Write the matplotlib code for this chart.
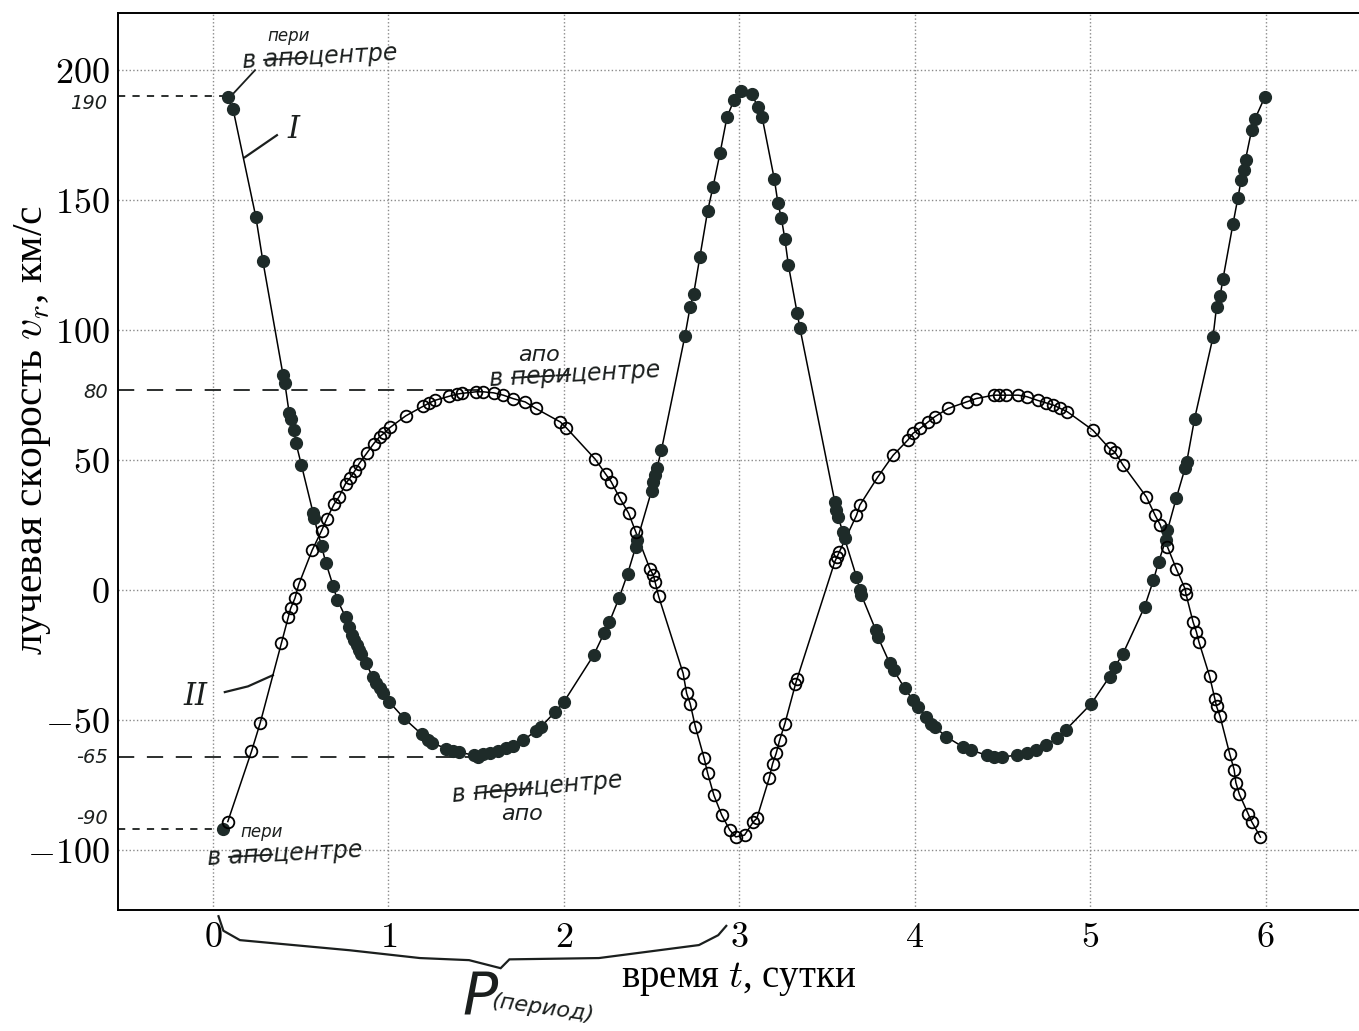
'''
Radial velocity curves of a spectroscopic binary, with hand notes
'''

import matplotlib
matplotlib.use('Agg')
import matplotlib.pyplot as plt
from matplotlib.path import Path
from matplotlib.patches import PathPatch

plt.rcParams['mathtext.fontset'] = 'cm'
plt.rcParams['font.family'] = ['Liberation Serif', 'DejaVu Serif']

# component I (filled dots): time, days / radial velocity, km/s
t_I = [0.085, 0.115, 0.245, 0.285, 0.40, 0.41, 0.435, 0.443, 0.463, 0.473,
       0.505, 0.572, 0.577, 0.619, 0.644, 0.686, 0.708, 0.756, 0.775, 0.79,
       0.803, 0.819, 0.834, 0.845, 0.872, 0.91, 0.929, 0.952, 0.97, 1.005,
       1.09, 1.19, 1.227, 1.246, 1.33, 1.37, 1.40, 1.49, 1.51, 1.54, 1.58,
       1.625, 1.67, 1.71, 1.77, 1.84, 1.87, 1.95, 2.0, 2.17, 2.23, 2.26,
       2.315, 2.363, 2.41, 2.418, 2.5, 2.51, 2.52, 2.53, 2.556, 2.69, 2.72,
       2.74, 2.775, 2.82, 2.85, 2.89, 2.93, 2.97, 3.01, 3.07, 3.105, 3.13,
       3.2, 3.22, 3.24, 3.26, 3.28, 3.33, 3.345, 3.544, 3.554, 3.563, 3.59,
       3.6, 3.668, 3.687, 3.696, 3.778, 3.79, 3.858, 3.88, 3.943, 3.99, 4.02,
       4.066, 4.095, 4.114, 4.18, 4.275, 4.32, 4.41, 4.45, 4.5, 4.58, 4.64,
       4.69, 4.75, 4.81, 4.86, 5.007, 5.11, 5.14, 5.187, 5.31, 5.36, 5.39,
       5.43, 5.44, 5.49, 5.54, 5.55, 5.595, 5.70, 5.72, 5.74, 5.756, 5.814,
       5.842, 5.86, 5.874, 5.885, 5.92, 5.94, 5.994]
v_I = [189.6, 185, 143.5, 126.5, 82.7, 79.7, 68, 66, 61.5, 56.7,
       48, 29.5, 27.6, 17, 10.5, 1.5, -3.6, -10.3, -14, -17.3,
       -19.2, -21, -23, -24.6, -28, -33.3, -35.6, -37.8, -39.7, -43,
       -49.3, -55.4, -57.7, -58.7, -60.9, -61.8, -62.3, -63.5, -64.1, -63.2, -62.8,
       -61.8, -60.8, -60, -57.7, -54.1, -52.6, -46.8, -43, -25, -16.4, -12.2,
       -3, 6.2, 16.7, 19.2, 38.2, 41.7, 44.2, 46.8, 53.8, 97.7, 109,
       114, 128, 146, 155, 168, 182, 188.5, 192, 191, 186, 182,
       158, 149, 143, 135, 125, 106.5, 101, 34, 30.8, 28.2, 22.4,
       19.9, 5.1, 0, -1.9, -15.4, -18, -28.2, -30.8, -37.8, -42.3, -44.9,
       -48.7, -51.3, -52.6, -56.4, -60.3, -61.5, -63.5, -64.1, -64.1, -63.5, -62.8,
       -61.5, -59.6, -57, -53.8, -43.6, -33.3, -29.5, -24.4, -6.4, 3.8, 10.9,
       19.2, 23, 35.3, 46.8, 49.3, 66, 97.4, 109, 113, 119.5, 141,
       151, 157.7, 161.5, 165.6, 177, 181.4, 189.5]

# component II (open circles)
t_II = [0.085, 0.22, 0.27, 0.39, 0.43, 0.443, 0.467, 0.49, 0.566, 0.619,
        0.648, 0.69, 0.72, 0.756, 0.78, 0.81, 0.834, 0.876, 0.917, 0.95,
        0.974, 1.01, 1.098, 1.2, 1.233, 1.265, 1.347, 1.39, 1.42, 1.5,
        1.54, 1.6, 1.655, 1.71, 1.78, 1.84, 1.98, 2.015, 2.18, 2.24,
        2.27, 2.32, 2.37, 2.41, 2.49, 2.51, 2.52, 2.54, 2.68, 2.70,
        2.72, 2.75, 2.8, 2.82, 2.855, 2.9, 2.946, 2.98, 3.03, 3.08,
        3.1, 3.17, 3.19, 3.21, 3.23, 3.26, 3.32, 3.33, 3.544, 3.557,
        3.57, 3.668, 3.687, 3.79, 3.877, 3.96, 3.99, 4.03, 4.076, 4.114,
        4.19, 4.295, 4.35, 4.45, 4.48, 4.52, 4.59, 4.64, 4.7, 4.75,
        4.79, 4.83, 4.87, 5.016, 5.11, 5.14, 5.187, 5.32, 5.37, 5.4,
        5.44, 5.49, 5.54, 5.545, 5.586, 5.605, 5.62, 5.68, 5.71, 5.72,
        5.74, 5.795, 5.82, 5.83, 5.85, 5.9, 5.92, 5.97]
v_II = [-89, -62, -51, -20.5, -10.3, -7, -3.2, 2.3, 15.4, 22.8,
        27.3, 33, 36, 41, 43, 46, 48.7, 52.6, 56.4, 59,
        60.3, 62.6, 67, 70.8, 72, 73, 74.6, 75.4, 75.7, 76.3,
        76.3, 75.9, 75, 73.7, 72.4, 69.9, 64.7, 62.4, 50.3, 44.5,
        41.7, 35.3, 29.5, 22.4, 8.3, 5.8, 3.2, -2.3, -32, -39.7,
        -43.6, -52.6, -64.7, -70.5, -78.8, -86.5, -92.3, -94.9, -94.2, -89.1,
        -87.8, -72.4, -66.7, -62.8, -57.7, -51.3, -36.2, -34, 10.9, 12.8,
        14.7, 28.8, 32.7, 43.6, 51.9, 57.7, 60.3, 62.2, 64.7, 66.7,
        69.9, 72.4, 73.7, 75, 75, 75, 75, 74.4, 73, 72,
        71.2, 69.9, 68.6, 61.5, 54.5, 53.2, 48.1, 35.9, 28.8, 25,
        16.7, 8.3, 0.6, -1.3, -12.2, -16, -20, -33, -41.7, -44.7,
        -48.5, -63, -69, -74, -78.5, -86, -89, -95]

# stray filled dot at the start of curve II
t_extra = [0.057]
v_extra = [-92]

x_ticks = [0, 1, 2, 3, 4, 5, 6]
y_ticks = [-100, -50, 0, 50, 100, 150, 200]

# hand-drawn reference levels: where the dashed line sits, what is written
ref_levels = [190, 77, -64, -92]
ref_labels = ['190', '80', '-65', '-90']
ref_label_y = [187, 76, -64.5, -88]
ref_ends = [0.07, 1.52, 1.46, 0.05]
ref_dash = [(4, 4), (9, 7), (9, 7), (4, 4)]

INK = '#1b1f1e'
DOT = '#1e2b29'
HAND = dict(family='DejaVu Sans', style='italic', color=INK)


def strike(s):
    return ''.join(c + '\u0336' for c in s)


fig = plt.figure(figsize=(13.59, 10.31), dpi=100)
ax = fig.add_axes([0.0868, 0.1174, 0.922, 0.870])

ax.plot(t_I, v_I, '-', color='black', lw=1.1, zorder=3)
ax.plot(t_II, v_II, '-', color='black', lw=1.1, zorder=3)
ax.plot(t_I, v_I, 'o', ms=8.5, mfc=DOT, mec=DOT, zorder=4)
ax.plot(t_extra, v_extra, 'o', ms=8.5, mfc=DOT, mec=DOT, zorder=4)
ax.plot(t_II, v_II, 'o', ms=8.4, mfc='none', mec='black', mew=1.3, zorder=4)

ax.set_xlim(-0.541, 6.6)
ax.set_ylim(-123, 222)
ax.set_xticks(x_ticks)
ax.set_yticks(y_ticks)
ax.set_xticklabels([f'${v}$' for v in x_ticks])
ax.set_yticklabels([f'${v}$' for v in y_ticks])
ax.tick_params(length=0, labelsize=26)
ax.tick_params(axis='x', pad=9)
ax.tick_params(axis='y', pad=6)
ax.grid(True, color='#8a8a8a', ls=':', lw=1.0)
ax.spines['right'].set_visible(False)
for side in ('left', 'top', 'bottom'):
    ax.spines[side].set_linewidth(1.4)

ax.set_xlabel('время $t$, сутки', fontsize=28)
ax.xaxis.set_label_coords(0.4955, -0.056)
ax.set_ylabel('лучевая скорость $v_r$, км/с', fontsize=30)
ax.yaxis.set_label_coords(-0.052, 0.535)

# --- hand notes ---
for lev, lab, ly, end, dash in zip(ref_levels, ref_labels, ref_label_y,
                                   ref_ends, ref_dash):
    ax.plot([-0.541, end], [lev, lev], color=INK, lw=1.3,
            dashes=dash, zorder=2, clip_on=False)
    ax.text(-0.60, ly, lab, ha='right', va='center', fontsize=14, **HAND)

ax.text(0.43, 213, 'пери', ha='center', va='center', fontsize=12, **HAND)
ax.text(0.61, 205, 'в ' + strike('апо') + 'центре', ha='center', va='center',
        fontsize=17, rotation=3, **HAND)
ax.plot([0.108, 0.24], [190.4, 200], color=INK, lw=1.3)

ax.text(1.86, 90.5, 'апо', ha='center', va='center', fontsize=16, **HAND)
ax.text(2.06, 83, 'в ' + strike('пери') + 'центре', ha='center', va='center',
        fontsize=17, rotation=3, **HAND)

ax.text(1.85, -76, 'в ' + strike('пери') + 'центре', ha='center',
        va='center', fontsize=17, rotation=5, **HAND)
ax.text(1.76, -86, 'апо', ha='center', va='center', fontsize=16, **HAND)

ax.text(0.28, -93, 'пери', ha='center', va='center', fontsize=12, **HAND)
ax.text(0.41, -101.5, 'в ' + strike('апо') + 'центре', ha='center',
        va='center', fontsize=17, rotation=3, **HAND)

ax.plot([0.182, 0.365], [166.5, 175], color=INK, lw=1.6)
ax.text(0.46, 177, 'I', ha='center', va='center', fontsize=22,
        family='DejaVu Serif', style='italic', color=INK)
ax.plot([0.068, 0.20, 0.342], [-39.2, -37, -32.7], color=INK, lw=1.6)
ax.text(-0.10, -41, 'II', ha='center', va='center', fontsize=22,
        family='DejaVu Serif', style='italic', color=INK)

brace = Path([(0.03, -125), (0.06, -131), (0.154, -134.6), (0.78, -138.5),
              (1.18, -141.5), (1.46, -142.3), (1.64, -145.4), (1.69, -142),
              (2.2, -141.5), (2.77, -136.5), (2.88, -132.7), (2.93, -128.8)])
ax.add_patch(PathPatch(brace, fill=False, color=INK, lw=1.6, clip_on=False))
ax.text(1.52, -163, 'P', ha='center', va='baseline', fontsize=42,
        family='DejaVu Sans', style='italic', color=INK)
ax.text(1.88, -161, '(период)', ha='center', va='center', fontsize=16,
        rotation=-8, **HAND)

fig.savefig('out.png', dpi=100)
